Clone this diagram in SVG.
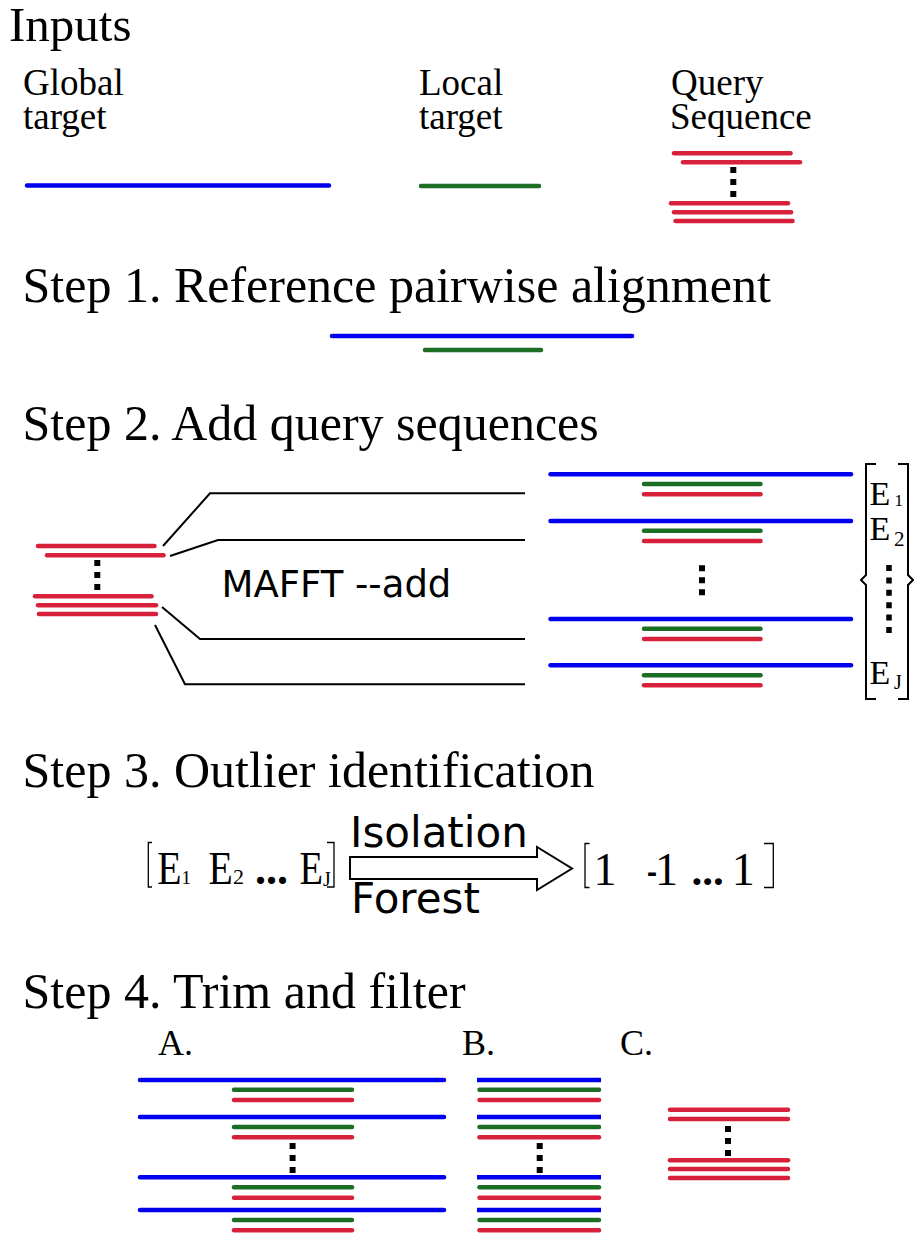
<svg xmlns="http://www.w3.org/2000/svg" width="914" height="1234" viewBox="0 0 914 1234">
  <style>
    .bg { fill: #ffffff; }
    .hd { font-family: "Liberation Serif", "Times New Roman", serif; font-size: 50px; fill: #000; }
    .lb { font-family: "Liberation Serif", "Times New Roman", serif; font-size: 37px; fill: #000; }
    .mt { font-family: "Liberation Serif", "Times New Roman", serif; fill: #000; }
    .sn { font-family: "DejaVu Sans", "Liberation Sans", sans-serif; fill: #000; }
    .b { stroke: #0000ee; stroke-width: 4.5; stroke-linecap: round; fill: none; }
    .bb { stroke: #0000ee; stroke-width: 4.5; stroke-linecap: butt; fill: none; }
    .g { stroke: #1b6e24; stroke-width: 4.5; stroke-linecap: round; fill: none; }
    .r { stroke: #d7213b; stroke-width: 4.5; stroke-linecap: round; fill: none; }
    .dt { stroke: #000; stroke-width: 6; stroke-dasharray: 6 6; fill: none; }
    .cn { stroke: #000; stroke-width: 2; fill: none; stroke-linejoin: miter; }
    .br { stroke: #000; stroke-width: 1.3; fill: none; }
  </style>
  <rect class="bg" x="0" y="0" width="914" height="1234"/>

  <!-- Inputs -->
  <g id="inputs-title"><text class="hd" x="9" y="41" style="font-size:49px">Inputs</text></g>
  <g id="global-target">
    <text class="lb" x="23" y="95">Global</text>
    <text class="lb" x="23" y="129">target</text>
    <line class="b" x1="27" y1="185.5" x2="329" y2="185.5"/>
  </g>
  <g id="local-target">
    <text class="lb" x="419" y="95">Local</text>
    <text class="lb" x="419" y="129">target</text>
    <line class="g" x1="421" y1="186" x2="539" y2="186"/>
  </g>
  <g id="query-sequence">
    <text class="lb" x="671" y="95">Query</text>
    <text class="lb" x="670" y="129">Sequence</text>
    <line class="r" x1="674" y1="153.3" x2="790.5" y2="153.3"/>
    <line class="r" x1="683" y1="162.3" x2="800" y2="162.3"/>
    <line class="dt" x1="733.3" y1="167" x2="733.3" y2="197"/>
    <line class="r" x1="671" y1="203.3" x2="788" y2="203.3"/>
    <line class="r" x1="674" y1="212.3" x2="791" y2="212.3"/>
    <line class="r" x1="675.5" y1="221" x2="792.5" y2="221"/>
  </g>

  <!-- Step 1 -->
  <g id="step1">
    <text class="hd" x="22.5" y="302">Step 1. Reference pairwise alignment</text>
    <line class="b" x1="332" y1="336" x2="632" y2="336"/>
    <line class="g" x1="425" y1="350" x2="541" y2="350"/>
  </g>

  <!-- Step 2 -->
  <g id="step2-title"><text class="hd" x="22.5" y="440">Step 2. Add query sequences</text></g>
  <g id="step2-queries">
    <line class="r" x1="38" y1="546" x2="154.5" y2="546"/>
    <line class="r" x1="47" y1="555.3" x2="163.5" y2="555.3"/>
    <line class="dt" x1="97.3" y1="560" x2="97.3" y2="590"/>
    <line class="r" x1="35" y1="596.3" x2="151.5" y2="596.3"/>
    <line class="r" x1="38" y1="605.3" x2="156" y2="605.3"/>
    <line class="r" x1="39" y1="614" x2="156" y2="614"/>
  </g>
  <g id="connectors">
    <polyline class="cn" points="163,546 210,493.3 525,493.3"/>
    <polyline class="cn" points="170,556 218,540 525,540"/>
    <polyline class="cn" points="162,607 200,639 525,639"/>
    <polyline class="cn" points="155,625 185,684.3 525,684.3"/>
  </g>
  <g id="mafft-label"><text class="sn" x="221.5" y="597" font-size="37">MAFFT --add</text></g>
  <g id="step2-alignments">
    <line class="b" x1="550.5" y1="474.3" x2="851" y2="474.3"/>
    <line class="g" x1="644" y1="484" x2="760.5" y2="484"/>
    <line class="r" x1="644" y1="494.3" x2="760.5" y2="494.3"/>
    <line class="b" x1="550.5" y1="521" x2="851" y2="521"/>
    <line class="g" x1="644" y1="530.7" x2="760.5" y2="530.7"/>
    <line class="r" x1="644" y1="541" x2="760.5" y2="541"/>
    <line class="dt" x1="702" y1="565.3" x2="702" y2="595.7"/>
    <line class="b" x1="550.5" y1="619" x2="851" y2="619"/>
    <line class="g" x1="644" y1="628.7" x2="760.5" y2="628.7"/>
    <line class="r" x1="644" y1="639" x2="760.5" y2="639"/>
    <line class="b" x1="550.5" y1="665.3" x2="851" y2="665.3"/>
    <line class="g" x1="644" y1="675.3" x2="760.5" y2="675.3"/>
    <line class="r" x1="644" y1="685.3" x2="760.5" y2="685.3"/>
  </g>
  <g id="step2-vector">
    <path class="cn" d="M876,464 L866,464 L866,575 L861,580 L866,585 L866,699 L876,699"/>
    <path class="cn" d="M898,464 L908,464 L908,575 L913,580 L908,585 L908,699 L898,699"/>
    <text class="mt" y="505"><tspan x="869.5" font-size="34">E</tspan><tspan x="894.5" y="506" font-size="17">1</tspan></text>
    <text class="mt" y="540"><tspan x="869.5" font-size="34">E</tspan><tspan x="894" y="546" font-size="21">2</tspan></text>
    <line class="dt" x1="889" y1="565" x2="889" y2="633" style="stroke-width:5.5;stroke-dasharray:6 6.4"/>
    <text class="mt" y="684"><tspan x="869.5" font-size="34">E</tspan><tspan x="894" y="689" font-size="20">J</tspan></text>
  </g>

  <!-- Step 3 -->
  <g id="step3-title"><text class="hd" x="22.5" y="787">Step 3. Outlier identification</text></g>
  <g id="step3-input">
    <path class="br" d="M152,842.5 L148.3,842.5 L148.3,887 L152,887"/>
    <text class="mt" y="884"><tspan x="157.2" font-size="46" textLength="24.3" lengthAdjust="spacingAndGlyphs">E</tspan><tspan x="181.5" font-size="19">1</tspan></text>
    <text class="mt" y="884"><tspan x="208.5" font-size="46" textLength="24.3" lengthAdjust="spacingAndGlyphs">E</tspan><tspan x="233" font-size="22">2</tspan></text>
    <text class="mt" x="255" y="884" font-size="44" font-weight="bold">...</text>
    <text class="mt" y="884"><tspan x="299.5" font-size="46" textLength="23.5" lengthAdjust="spacingAndGlyphs">E</tspan><tspan x="323" y="886" font-size="20">J</tspan></text>
    <path class="br" d="M327,842.5 L334,842.5 L334,887 L327,887"/>
  </g>
  <g id="isolation-forest">
    <path d="M350,857 L537,857 L537,847 L572,868.5 L537,890 L537,879 L350,879 Z" fill="#fff" stroke="#000" stroke-width="2" stroke-linejoin="miter"/>
    <text class="sn" x="350" y="847" font-size="42">Isolation</text>
    <text class="sn" x="351" y="913" font-size="42">Forest</text>
  </g>
  <g id="step3-output">
    <path class="br" d="M589.5,843.5 L585,843.5 L585,887.5 L589.5,887.5"/>
    <text class="mt" x="593.5" y="885" font-size="46">1</text>
    <text class="mt" y="885" font-size="46"><tspan x="647" textLength="10" lengthAdjust="spacingAndGlyphs">-</tspan><tspan x="655">1</tspan></text>
    <text class="mt" x="691.6" y="885" font-size="43" font-weight="bold">...</text>
    <text class="mt" x="731.7" y="885" font-size="46">1</text>
    <path class="br" d="M764,843.5 L773.3,843.5 L773.3,887.5 L764,887.5"/>
  </g>

  <!-- Step 4 -->
  <g id="step4-title"><text class="hd" x="22.5" y="1008">Step 4. Trim and filter</text></g>
  <g id="step4-A">
    <text class="mt" x="158" y="1055" font-size="36">A.</text>
    <line class="b" x1="140" y1="1080" x2="444" y2="1080"/>
    <line class="g" x1="234" y1="1089.7" x2="352" y2="1089.7"/>
    <line class="r" x1="234" y1="1100" x2="352" y2="1100"/>
    <line class="b" x1="140" y1="1117" x2="444" y2="1117"/>
    <line class="g" x1="234" y1="1127" x2="352" y2="1127"/>
    <line class="r" x1="234" y1="1137.3" x2="352" y2="1137.3"/>
    <line class="dt" x1="292.6" y1="1143" x2="292.6" y2="1173"/>
    <line class="b" x1="140" y1="1177.3" x2="444" y2="1177.3"/>
    <line class="g" x1="234" y1="1187.3" x2="352" y2="1187.3"/>
    <line class="r" x1="234" y1="1197.7" x2="352" y2="1197.7"/>
    <line class="b" x1="140" y1="1210" x2="444" y2="1210"/>
    <line class="g" x1="234" y1="1220" x2="352" y2="1220"/>
    <line class="r" x1="234" y1="1230.3" x2="352" y2="1230.3"/>
  </g>
  <g id="step4-B">
    <text class="mt" x="462" y="1055" font-size="36">B.</text>
    <line class="bb" x1="477" y1="1080" x2="601" y2="1080"/>
    <line class="g" x1="479.5" y1="1089.7" x2="599" y2="1089.7"/>
    <line class="r" x1="479.5" y1="1100" x2="599" y2="1100"/>
    <line class="bb" x1="477" y1="1117" x2="601" y2="1117"/>
    <line class="g" x1="479.5" y1="1127" x2="599" y2="1127"/>
    <line class="r" x1="479.5" y1="1137.3" x2="599" y2="1137.3"/>
    <line class="dt" x1="539.7" y1="1143" x2="539.7" y2="1173"/>
    <line class="bb" x1="477" y1="1177.3" x2="601" y2="1177.3"/>
    <line class="g" x1="479.5" y1="1187.3" x2="599" y2="1187.3"/>
    <line class="r" x1="479.5" y1="1197.7" x2="599" y2="1197.7"/>
    <line class="bb" x1="477" y1="1210" x2="601" y2="1210"/>
    <line class="g" x1="479.5" y1="1220" x2="599" y2="1220"/>
    <line class="r" x1="479.5" y1="1230.3" x2="599" y2="1230.3"/>
  </g>
  <g id="step4-C">
    <text class="mt" x="620" y="1055" font-size="36">C.</text>
    <line class="r" x1="670" y1="1109.7" x2="788" y2="1109.7"/>
    <line class="r" x1="670" y1="1119" x2="788" y2="1119"/>
    <line class="dt" x1="728" y1="1126" x2="728" y2="1156"/>
    <line class="r" x1="670" y1="1160.3" x2="788" y2="1160.3"/>
    <line class="r" x1="670" y1="1169" x2="788" y2="1169"/>
    <line class="r" x1="670" y1="1178" x2="788" y2="1178"/>
  </g>
</svg>
